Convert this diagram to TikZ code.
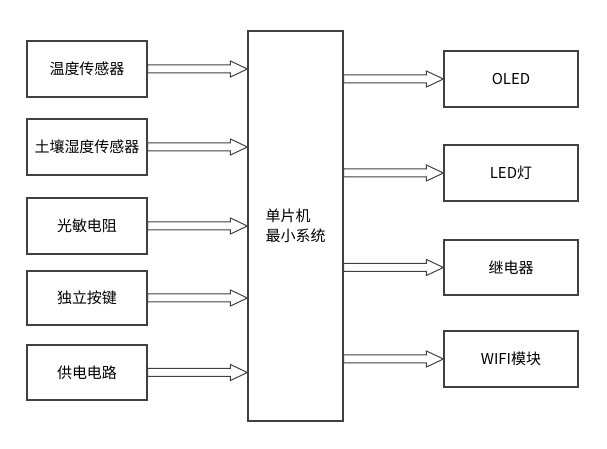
\documentclass[tikz,border=0pt]{standalone}
\usepackage{fontspec}
\newfontfamily\cjk{Noto Sans CJK SC}
\usetikzlibrary{calc, positioning}
\tikzset{
    blk/.style={draw=black!75, line width=0.6pt, inner sep=0pt, font=\cjk\fontsize{7.5}{10}\selectfont},
    arr/.style={draw=black!75, line width=0.5pt, fill=white}
}
% hollow block arrow between two named coordinates on one level
\newcommand{\blockarrow}[2]{%
    \draw[arr] let \p1=(#1), \p2=(#2) in
        (\x1,\y1+2pt) -- (\x2-8.5pt,\y1+2pt) -- (\x2-8.5pt,\y1+4pt) -- (\x2,\y1)
        -- (\x2-8.5pt,\y1-4pt) -- (\x2-8.5pt,\y1-2pt) -- (\x1,\y1-2pt) -- cycle;}

\begin{document}
\begin{tikzpicture}[x=0.5pt,y=-0.5pt]
\useasboundingbox (0,0) rectangle (607,449);
    % centre
    \node[blk, minimum width=47.5pt, minimum height=195pt, align=left] (mcu) at (295.5,226) {单片机\\最小系统};
    % left side
    \node[blk, minimum width=60pt, minimum height=28pt] (l1) at (87,69) {温度传感器};
    \node[blk, minimum width=60pt, minimum height=28pt] (l2) at (87,147) {土壤湿度传感器};
    \node[blk, minimum width=60pt, minimum height=28pt] (l3) at (87,226) {光敏电阻};
    \node[blk, minimum width=60pt, minimum height=27pt] (l4) at (87,298) {独立按键};
    \node[blk, minimum width=60pt, minimum height=27.5pt] (l5) at (87,372.5) {供电电路};
    % right side
    \node[blk, minimum width=67pt, minimum height=28pt] (r1) at (511,79) {OLED};
    \node[blk, minimum width=67pt, minimum height=28pt] (r2) at (511,173) {LED灯};
    \node[blk, minimum width=67pt, minimum height=27.5pt] (r3) at (511,267.5) {继电器};
    \node[blk, minimum width=67pt, minimum height=28pt] (r4) at (511,359) {WIFI模块};
    % arrows
    \foreach \n in {l1,l2,l3,l4,l5}{
        \path (\n.east) coordinate (s) (mcu.west |- s) coordinate (t);
        \blockarrow{s}{t}
    }
    \foreach \n in {r1,r2,r3,r4}{
        \path (\n.west) coordinate (t) (mcu.east |- t) coordinate (s);
        \blockarrow{s}{t}
    }
\end{tikzpicture}
\end{document}
